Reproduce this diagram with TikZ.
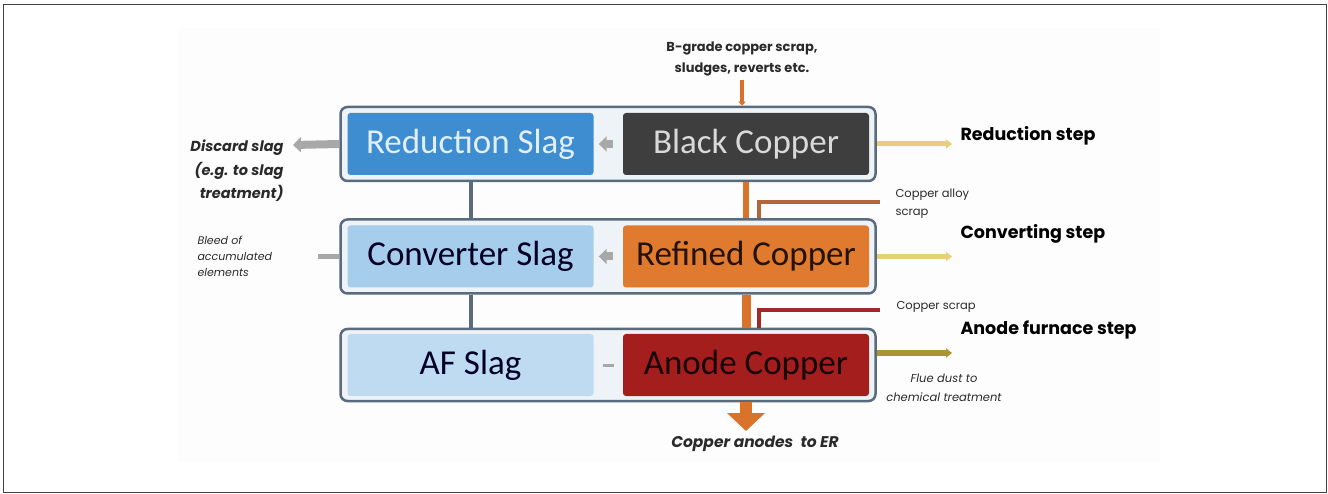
\documentclass[tikz,border=0pt]{standalone}
\usepackage{fontspec}
\setmainfont{Carlito}
\newfontfamily\labelfont{Poppins}
\usetikzlibrary{arrows.meta}

\definecolor{rowedge}{HTML}{5B6B7E}
\definecolor{rowfill}{HTML}{EEF3F8}
\definecolor{redslagfill}{HTML}{3D8DD0}
\definecolor{convslagfill}{HTML}{A6CDEC}
\definecolor{afslagfill}{HTML}{BEDBF2}
\definecolor{blackcufill}{HTML}{3E3E3E}
\definecolor{refcufill}{HTML}{E07A2E}
\definecolor{anodecufill}{HTML}{A41E1E}
\definecolor{slaggray}{HTML}{A8A8A8}
\definecolor{cuorange}{HTML}{D9722B}
\definecolor{alloybrown}{HTML}{B2663A}
\definecolor{scrapred}{HTML}{A3282A}
\definecolor{stepyellow}{HTML}{E6CF78}
\definecolor{flueolive}{HTML}{AD9433}
\definecolor{labelgray}{HTML}{2A2A2A}

\tikzset{
  rowbox/.style={draw=rowedge, fill=rowfill, line width=2.5pt, rounded corners=7pt,
    minimum width=535pt, minimum height=74pt},
  stagebox/.style={rounded corners=3pt, minimum width=246pt, minimum height=62pt,
    inner sep=0pt, font=\fontsize{35}{40}\selectfont},
  steplabel/.style={anchor=west, text=black, font=\labelfont\bfseries\fontsize{17.5}{20}\selectfont},
  smalllabel/.style={text=labelgray, align=left, font=\labelfont\fontsize{11.5}{18}\selectfont},
  slagarrow/.style={slaggray, line width=8pt, -{Triangle[length=8pt,width=15pt]}},
  steparrow/.style={stepyellow, line width=5pt, -{Triangle[length=6pt,width=9pt]}},
  feedline/.style={line width=4pt}
}

\begin{document}
\begin{tikzpicture}[x=1pt,y=-1pt]
  \useasboundingbox (0,0) rectangle (1328,494);
  \fill[black!0.6] (178,28) rectangle (1160,462);
  \draw[black!75, line width=1.5pt] (3.5,4.5) rectangle (1326.5,492.5);

  % furnace rows
  \node[rowbox] (redrow) at (608,144) {};
  \node[rowbox] (convrow) at (608,256.5) {};
  \node[rowbox, minimum height=72pt] (afrow) at (608,365) {};

  \node[stagebox, fill=redslagfill, text=white!85!redslagfill] (redslag) at (470.5,144) {Reduction Slag};
  \node[stagebox, fill=blackcufill, text=white!85!black] (blackcu) at (746,144) {Black Copper};
  \node[stagebox, fill=convslagfill, text=black!85!blue] (convslag) at (470.5,256.5) {Converter Slag};
  \node[stagebox, fill=refcufill, text=black!85!refcufill] (refcu) at (746,256.5) {Refined Copper};
  \node[stagebox, fill=afslagfill, text=black!85!blue] (afslag) at (470.5,365) {AF Slag};
  \node[stagebox, fill=anodecufill, text=black!85!anodecufill] (anodecu) at (746,365) {Anode Copper};

  % labels
  \node[text=labelgray, align=center, font=\labelfont\bfseries\fontsize{13}{21}\selectfont] (bgrade) at (742,59)
    {B-grade copper scrap,\\sludges, reverts etc.};
  \node[text=labelgray, anchor=east, align=right, font=\labelfont\bfseries\itshape\fontsize{14.5}{23.5}\selectfont] (discard) at (287,171)
    {Discard slag\\(e.g. to slag\\treatment)};
  \node[smalllabel, anchor=west, font=\labelfont\itshape\fontsize{11}{16}\selectfont] (bleed) at (194,256)
    {Bleed of\\accumulated\\elements};
  \node[smalllabel, anchor=west] (alloyscrap) at (892,203.5) {Copper alloy\\scrap};
  \node[smalllabel, anchor=west] (copperscrap) at (893,307) {Copper scrap};
  \node[steplabel] (redstep) at (957,136) {Reduction step};
  \node[steplabel] (convstep) at (957,234) {Converting step};
  \node[steplabel] (afstep) at (957,330) {Anode furnace step};
  \node[smalllabel, align=center, font=\labelfont\itshape\fontsize{11.5}{19}\selectfont] (fluedust) at (944,388)
    {Flue dust to\\chemical treatment};
  \node[text=labelgray, font=\labelfont\bfseries\itshape\fontsize{15.5}{18}\selectfont] (anodes) at (755,444)
    {Copper anodes\ \ to ER};

  \coordinate (discardtip) at (293,145);
  \coordinate (bleedend) at (318,256.5);
  \coordinate (redout) at (952,144);
  \coordinate (convout) at (952,256.5);
  \coordinate (flueout) at (952,353);
  \coordinate (alloyin) at (880,202);
  \coordinate (scrapin) at (880,310);
  \coordinate (anodesout) at (746,431);

  % slag side
  \draw[slagarrow] (redrow.west) -- (discardtip);
  \draw[slaggray, line width=5pt] (convrow.west) -- (bleedend);
  \draw[slagarrow, shorten >=5pt, shorten <=10pt] (blackcu.west) -- (redslag.east);
  \draw[slagarrow, shorten >=5pt, shorten <=10pt] (refcu.west) -- (convslag.east);
  \draw[slaggray, line width=3pt, shorten >=9pt, shorten <=9pt] (anodecu.west) -- (afslag.east);
  \draw[rowedge, line width=4pt] (redslag.south |- redrow.south) -- (redslag.south |- convrow.north);
  \draw[rowedge, line width=4pt] (convslag.south |- convrow.south) -- (convslag.south |- afrow.north);

  % copper side
  \draw[cuorange, feedline, -{Triangle[length=4pt,width=7pt]}] (bgrade.south) -- (bgrade.south |- redrow.north);
  \draw[cuorange, line width=6pt] (blackcu.south |- redrow.south) -- (blackcu.south |- convrow.north);
  \draw[cuorange, line width=9pt] (refcu.south |- convrow.south) -- (refcu.south |- afrow.north);
  \draw[cuorange, line width=12pt, -{Triangle[length=18pt,width=37pt]}] (anodecu.south |- afrow.south) -- (anodesout);
  \draw[alloybrown, feedline] (alloyin) -| ([xshift=13pt]blackcu.south |- convrow.north);
  \draw[scrapred, feedline] (scrapin) -| ([xshift=13pt]refcu.south |- afrow.north);

  % step arrows
  \draw[steparrow] (redrow.east) -- (redout);
  \draw[steparrow] (convrow.east) -- (convout);
  \draw[steparrow, flueolive, line width=6pt] (redrow.east |- flueout) -- (flueout);
\end{tikzpicture}
\end{document}
